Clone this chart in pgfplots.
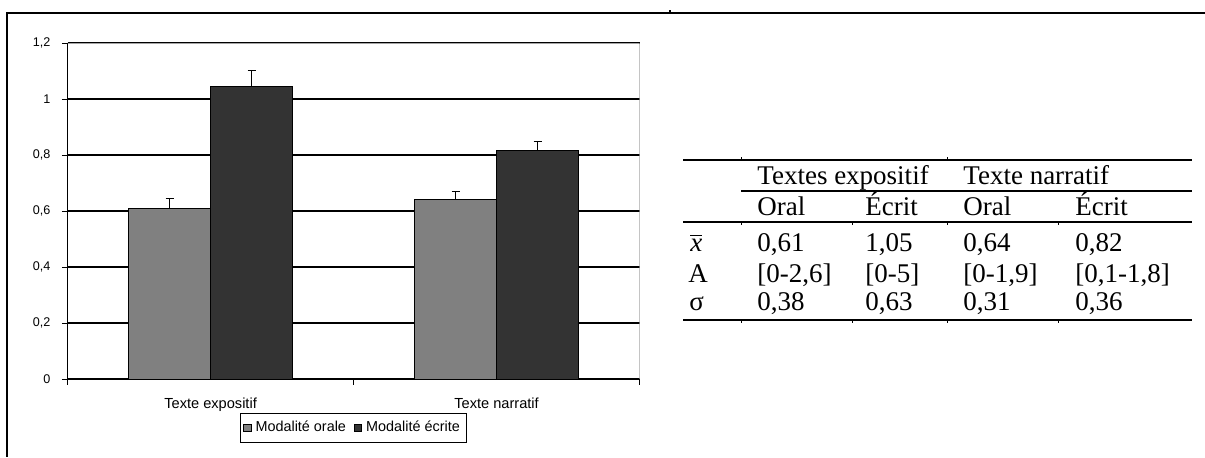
\documentclass[border=0pt]{standalone}
\usepackage{pgfplots}
\pgfplotsset{compat=1.18}
\usepackage{fontspec}
\setmainfont{Liberation Serif}
\newfontfamily\arial{Liberation Sans}
\definecolor{barA}{RGB}{128,128,128}
\definecolor{barB}{RGB}{51,51,51}
\definecolor{plotborder}{RGB}{165,165,165}
\pgfplotsset{sq legend/.style={legend image code/.code={\draw[##1,draw=black,line width=0.5pt] (0pt,-1.8pt) rectangle (3.6pt,1.8pt);}}}
\begin{document}
\begin{tikzpicture}
\begin{scope}[x=0.5pt,y=-0.5pt]
\path[use as bounding box] (0,0) rectangle (1205,457);
% outer frame
\draw[line width=0.85pt] (1205,13) -- (7,13) -- (7,457);
\draw[line width=0.6pt] (670,13) -- (670,10);
% table rules
\begin{scope}[line width=0.8pt]
\draw (683,160) -- (1192,160);
\draw (741,191) -- (1192,191);
\draw (683,222) -- (1192,222);
\draw (683,320) -- (1192,320);
\draw[line width=0.5pt] (741,160) -- (741,157) (947,160) -- (947,157);
\foreach \c in {741,852,947,1058}{\draw[line width=0.5pt] (\c,222) -- (\c,225) (\c,320) -- (\c,323);}
\end{scope}
% table text
\begin{scope}[every node/.style={anchor=base west,inner sep=0pt,font=\fontsize{13.5}{15}\selectfont}]
\node at (757,184) {Textes expositif};
\node at (963,184) {Texte narratif};
\node at (757,215) {Oral};
\node at (865,215) {Écrit};
\node at (963,215) {Oral};
\node at (1075,215) {Écrit};
\node at (690,251) {$\overline{\mbox{\itshape x}}$};
\node at (757,251) {0,61};
\node at (865,251) {1,05};
\node at (963,251) {0,64};
\node at (1075,251) {0,82};
\node at (688,282) {A};
\node at (757,282) {[0-2,6]};
\node at (865,282) {[0-5]};
\node at (963,282) {[0-1,9]};
\node at (1075,282) {[0,1-1,8]};
\node at (689,310.5) {σ};
\node at (757,310.5) {0,38};
\node at (865,310.5) {0,63};
\node at (963,310.5) {0,31};
\node at (1075,310.5) {0,36};
\end{scope}
\end{scope}
\begin{axis}[
  at={(33.8pt,-189.5pt)}, anchor=south west,
  scale only axis, width=286pt, height=168pt,
  xmin=-0.5, xmax=1.5, ymin=0, ymax=1.2,
  axis lines*=left,
  axis line style={-, black, line width=0.6pt},
  ybar=0pt, bar width=41pt,
  ytick={0,0.2,0.4,0.6,0.8,1,1.2},
  ymajorgrids, major grid style={black, line width=0.55pt},
  /pgf/number format/use comma,
  /pgf/number format/assume math mode=true,
  yticklabel style={font=\arial\fontsize{6.3}{7}\selectfont, xshift=-2.3pt},
  tick align=outside, major tick length=2.8pt,
  tick style={black, line width=0.5pt},
  xtick={-0.5,0.5,1.5}, xticklabels={},
  extra x ticks={0,1},
  extra x tick labels={Texte expositif, Texte narratif},
  extra x tick style={tick style={draw=none}, xticklabel style={font=\arial\fontsize{7.3}{8}\selectfont, yshift=-3.3pt}},
  legend style={at={(0.5,-0.1)}, anchor=north, legend columns=2, draw=black, line width=0.6pt,
    font=\arial\fontsize{7.2}{8}\selectfont, inner xsep=1.5pt, inner ysep=2pt,
    /tikz/every even column/.append style={column sep=2pt}},
  legend cell align=left,
]
\addplot[sq legend, fill=barA, draw=black, line width=0.5pt,
  error bars/.cd, y dir=plus, y explicit,
  error bar style={black, line width=0.6pt},
  error mark options={rotate=90, mark size=2pt, black, line width=0.6pt}]
  coordinates {(0,0.61) +- (0,0.035) (1,0.64) +- (0,0.031)};
\addlegendentry{Modalité orale}
\addplot[sq legend, fill=barB, draw=black, line width=0.5pt,
  error bars/.cd, y dir=plus, y explicit,
  error bar style={black, line width=0.6pt},
  error mark options={rotate=90, mark size=2pt, black, line width=0.6pt}]
  coordinates {(0,1.045) +- (0,0.056) (1,0.817) +- (0,0.031)};
\addlegendentry{Modalité écrite}
\draw[plotborder, line width=0.8pt] (rel axis cs:0,1) -- (rel axis cs:1,1) -- (rel axis cs:1,0);
\end{axis}
\end{tikzpicture}
\end{document}
